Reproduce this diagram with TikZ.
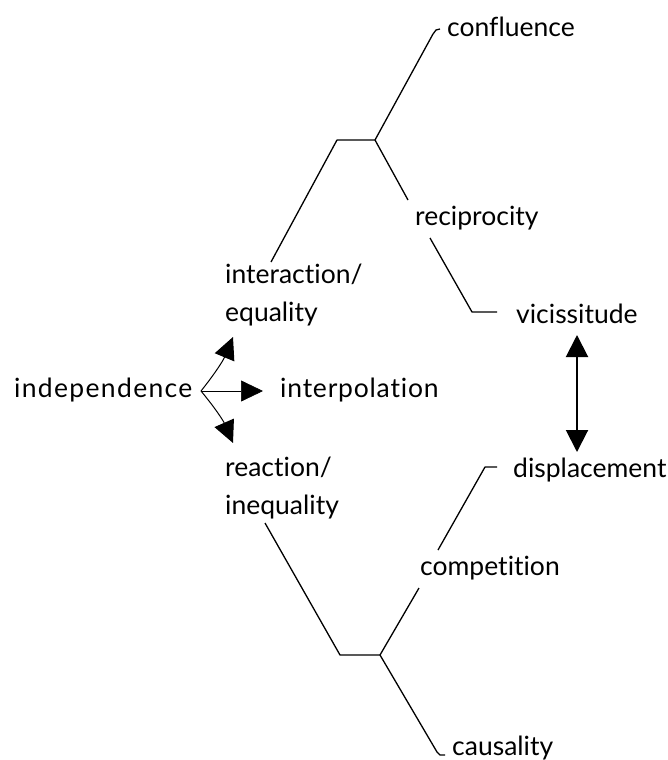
\documentclass[tikz,border=0pt]{standalone}
\usepackage{fontspec}
\setmainfont{Lato}[Ligatures={NoCommon,NoRare,NoContextual}]
\usetikzlibrary{arrows.meta}
\tikzset{
  term/.style={anchor=west, inner sep=0pt, align=left,
    font=\fontsize{26.5}{38}\selectfont},
  wide/.style={font=\fontsize{26.5}{38}\selectfont\addfontfeature{LetterSpace=#1}},
  branch/.style={line width=1.3pt, line join=round},
  bigtip/.style={-{Triangle[length=22pt,width=21pt]}},
  bothtips/.style={{Triangle[length=22pt,width=22pt]}-{Triangle[length=22pt,width=22pt]}},
}

\begin{document}
\begin{tikzpicture}[x=1pt,y=-1pt]
  \useasboundingbox (0,0) rectangle (668,760);
  % left column
  \node[term, wide=5] (indep) at (14,390) {independence};
  \node[term, wide=3] (interp) at (280,390) {interpolation};
  \node[term] (inter) at (225,295) {interaction/\\equality};
  \node[term] (react) at (225,488) {reaction/\\inequality};
  % upper tree
  \node[term] (confl) at (447,27) {confluence};
  \node[term] (recip) at (415,218) {reciprocity};
  \node[term] (vicis) at (516,314) {vicissitude};
  % lower tree
  \node[term] (displ) at (513,470) {displacement};
  \node[term] (compet) at (420,568) {competition};
  \node[term] (causal) at (452,748) {causality};

  % junctions and line ends
  \coordinate (topJ) at (375,140);
  \coordinate (topK) at (337,140);
  \coordinate (interEnd) at (271,262);
  \coordinate (conflEnd) at (440,29);
  \coordinate (recipIn) at (408,200);
  \coordinate (recipOut) at (430,238);
  \coordinate (vicisEnd) at (497,312);
  \coordinate (botJ) at (380,655);
  \coordinate (botK) at (340,655);
  \coordinate (reactEnd) at (265,523);
  \coordinate (displEnd) at (497,467);
  \coordinate (competIn) at (438,550);
  \coordinate (competOut) at (419,588);
  \coordinate (causalEnd) at (445,755);
  \coordinate (fork) at (201,391);
  \coordinate (upTip) at (233,337);
  \coordinate (downTip) at (233,443);
  \coordinate (vTop) at (577,335);
  \coordinate (vBot) at (577,452);

  % upper tree
  \draw[branch] (interEnd) -- (topK) -- (topJ);
  \draw[branch] (topJ) -- (433,34) -- (436,30) -- (conflEnd);
  \draw[branch] (topJ) -- (recipIn);
  \draw[branch] (recipOut) -- (472,312) -- (vicisEnd);
  % lower tree
  \draw[branch] (displEnd) -- (485,467) -- (competIn);
  \draw[branch] (competOut) -- (botJ) -- (botK) -- (reactEnd);
  \draw[branch] (botJ) -- (437,752) -- (440,755) -- (causalEnd);

  % fork out of independence
  \draw[line width=1pt, bigtip] (fork) to[bend right=8] (upTip);
  \draw[line width=1pt, bigtip] (fork) to[bend left=8] (downTip);
  \draw[line width=0.7pt, bigtip] (fork) -- (263,391);
  % vicissitude <-> displacement
  \draw[line width=2pt, bothtips] (vTop) -- (vBot);
\end{tikzpicture}
\end{document}
